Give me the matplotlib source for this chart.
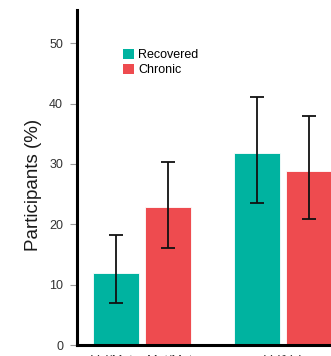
import matplotlib
matplotlib.use("Agg")
import matplotlib.pyplot as plt
import numpy as np

plt.rcParams['font.family'] = ['Liberation Sans', 'DejaVu Sans']

groups = ["Val/Met + Met/Met", "Val/Val"]
series = ["Recovered", "Chronic"]
recovered = [12, 31.8]
chronic = [22.8, 28.8]
recovered_lo = [7, 23.5]
recovered_hi = [18.2, 41.1]
chronic_lo = [16.0, 20.8]
chronic_hi = [30.3, 38.0]
yticks = [0, 10, 20, 30, 40, 50]

teal = "#00b3a0"
red = "#ee4b4f"

W, H = 331, 356
fig = plt.figure(figsize=(W / 100, H / 100), dpi=100)
ax = fig.add_axes([77 / W, 11 / H, 282 / W, 335 / H])

x = np.arange(len(groups))
bw = 0.326
off = 0.186

rec = np.array(recovered)
chr_ = np.array(chronic)
rerr = [rec - np.array(recovered_lo), np.array(recovered_hi) - rec]
cerr = [chr_ - np.array(chronic_lo), np.array(chronic_hi) - chr_]

ekw = dict(elinewidth=1.3, capthick=1.3, ecolor="#111111")
ax.bar(x - off, rec, bw, color=teal, edgecolor="#ffffff", linewidth=0.6,
       yerr=rerr, capsize=4.7, error_kw=ekw, label=series[0], zorder=2)
ax.bar(x + off, chr_, bw, color=red, edgecolor="#ffffff", linewidth=0.6,
       yerr=cerr, capsize=4.7, error_kw=ekw, label=series[1], zorder=2)

ax.set_xlim(-0.461, 1.539)
ax.set_ylim(0, 55.5)
ax.set_yticks(yticks)
ax.set_xticks(x)
ax.set_xticklabels(groups, fontsize=9, color="#333333")
ax.tick_params(axis="x", length=0, pad=7)
ax.tick_params(axis="y", length=5, width=0.8, color="#999999", pad=5,
               labelsize=9, labelcolor="#333333")

for s in ["top", "right"]:
    ax.spines[s].set_visible(False)
ax.spines["left"].set_linewidth(2.2)
ax.spines["bottom"].set_linewidth(2.2)

ax.set_ylabel("Participants (%)", fontsize=13.5, color="#1a1a1a")
ax.yaxis.set_label_coords(-(77 - 42) / 282, (346 - 186) / 335)

leg = ax.legend(loc="upper left", bbox_to_anchor=(123 / W, 1 - 49 / H),
                bbox_transform=fig.transFigure, frameon=False, fontsize=9,
                handlelength=0.9, handleheight=0.85, handletextpad=0.3,
                labelspacing=0.18, borderpad=0, borderaxespad=0)
for p in leg.get_patches():
    p.set_linewidth(0)

fig.savefig("out.png", dpi=100)
